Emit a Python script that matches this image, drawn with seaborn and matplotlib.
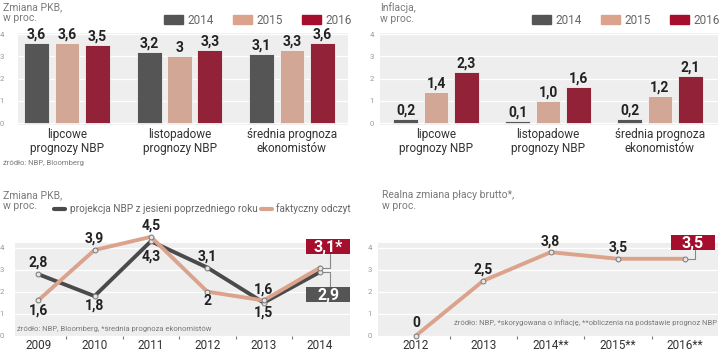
import matplotlib
matplotlib.use("Agg")
import matplotlib.pyplot as plt
import matplotlib.transforms as mtransforms
import pandas as pd
import seaborn as sns
from matplotlib.lines import Line2D
from matplotlib.patches import Patch, Rectangle

sns.set_theme(style="white")
plt.rcParams["font.family"] = ["Liberation Sans Narrow", "Roboto", "DejaVu Sans"]

# --- data -------------------------------------------------------------
GROUPS = ["lipcowe\nprognozy NBP", "listopadowe\nprognozy NBP", "średnia prognoza\nekonomistów"]
YEARS = ["2014", "2015", "2016"]

gdp_2014 = [3.6, 3.2, 3.1]
gdp_2015 = [3.6, 3.0, 3.3]
gdp_2016 = [3.5, 3.3, 3.6]

infl_2014 = [0.2, 0.1, 0.2]
infl_2015 = [1.4, 1.0, 1.2]
infl_2016 = [2.3, 1.6, 2.1]

gdp_years = [2009, 2010, 2011, 2012, 2013, 2014]
gdp_projection = [2.8, 1.8, 4.3, 3.1, 1.5, 2.9]
gdp_actual = [1.6, 3.9, 4.5, 2.0, 1.6, 3.1]

wage_years = ["2012", "2013", "2014**", "2015**", "2016**"]
wage_change = [0.0, 2.5, 3.8, 3.5, 3.5]

# --- style ------------------------------------------------------------
DARK = "#555555"
SALMON = "#dca38c"
RED = "#a50f2d"
BG = "#eeeeee"
GREY_TEXT = "#7a7a7a"
SANS = ["Roboto", "DejaVu Sans"]
YEAR_COLORS = {"2014": DARK, "2015": SALMON, "2016": RED}
PROJ_LABEL = "projekcja NBP z jesieni poprzedniego roku"
ACT_LABEL = "faktyczny odczyt"
W, H = 720, 352
VAL_FONT = dict(fontsize=10, fontweight="bold", color="#222222")

fig = plt.figure(figsize=(W / 100, H / 100), dpi=100)


def px_axes(x0, y0, x1, y1):
    return fig.add_axes([x0 / W, 1 - y1 / H, (x1 - x0) / W, (y1 - y0) / H])


def fmt_comma(v):
    return f"{v:g}".replace(".", ",")


def style_axes(ax, ylim, ypad):
    ax.set_facecolor(BG)
    for s in ax.spines.values():
        s.set_visible(False)
    ax.set_ylim(ylim)
    ax.set_yticks([0, 1, 2, 3, 4])
    ax.grid(axis="y", color="white", linewidth=0.9)
    ax.grid(axis="x", visible=False)
    ax.set_axisbelow(True)
    ax.tick_params(axis="y", length=0, labelsize=5.5, labelcolor="#999999", pad=ypad)
    ax.set_xlabel("")
    ax.set_ylabel("")


def fig_text(x, y, s, **kw):
    fig.text(x / W, 1 - y / H, s, **kw)


def value_box(ax, x, y, text, color, dx, dy, bw=44, bh=15, lx=10):
    # box anchored to a data point, offsets in pixels; elbow connector to the point
    trans = fig.dpi_scale_trans + mtransforms.ScaledTranslation(x, y, ax.transData)
    ax.add_patch(Rectangle(((dx - bw / 2) / 100, (dy - bh / 2) / 100), bw / 100, bh / 100,
                           transform=trans, fc=color, ec="none", clip_on=False, zorder=5))
    edge = dy - bh / 2 if dy > 0 else dy + bh / 2
    ax.add_line(Line2D([0, lx / 100, lx / 100], [0, 0, edge / 100], transform=trans,
                       color="#888888", linewidth=0.8, clip_on=False, zorder=1.5))
    ax.text(dx / 100, dy / 100 - 0.005, text, transform=trans, ha="center", va="center",
            fontsize=11.5, fontweight="bold", color="white", family=SANS, zorder=6)


def bar_panel(ax, v14, v15, v16, fmt, xlim, ypad):
    df = pd.DataFrame({
        "group": GROUPS * 3,
        "year": [y for y in YEARS for _ in GROUPS],
        "value": v14 + v15 + v16,
    })
    sns.barplot(data=df, x="group", y="value", hue="year", order=GROUPS, hue_order=YEARS,
                palette=YEAR_COLORS, width=0.81, gap=0.18, errorbar=None, legend=False,
                edgecolor="#f4f4f4", linewidth=0.6, ax=ax)
    for cont in ax.containers:
        ax.bar_label(cont, labels=[fmt(v) for v in cont.datavalues], padding=1, **VAL_FONT)
    style_axes(ax, (-0.09, 4.05), ypad)
    ax.set_xlim(xlim)
    ax.tick_params(axis="x", length=0, labelsize=8.5, labelcolor="#333333", pad=2)
    for t in ax.get_xticklabels():
        t.set_linespacing(1.1)
        t.set_fontfamily(SANS)
    return [Patch(color=YEAR_COLORS[y], label=y) for y in YEARS]


def year_legend(handles, x, y):
    fig.legend(handles=handles, loc="center left", bbox_to_anchor=(x / W, 1 - y / H), ncol=3,
               frameon=False, handlelength=1.6, handleheight=0.75,
               handletextpad=0.4, columnspacing=1.6, borderpad=0, borderaxespad=0,
               prop={"family": SANS, "size": 8.5}, labelcolor="#666666")


def x_years(ax, labels_pos, labels=None):
    ax.set_xticks(labels_pos)
    if labels is not None:
        ax.set_xticklabels(labels)
    ax.set_xticks([p + 0.5 for p in labels_pos[:-1]], minor=True)
    ax.tick_params(axis="x", which="major", length=0, labelsize=8.5, labelcolor="#333333", pad=2.5)
    ax.tick_params(axis="x", which="minor", length=2.5, width=0.8, color="#777777",
                   direction="out", bottom=True)
    for t in ax.get_xticklabels():
        t.set_fontfamily(SANS)


# --- panel 1: GDP forecasts ------------------------------------------
ax1 = px_axes(18, 33, 348, 125)
h = bar_panel(ax1, gdp_2014, gdp_2015, gdp_2016, fmt_comma, (-0.436, 2.498), 10)
year_legend(h, 164, 20)
fig_text(3, 2, "Zmiana PKB,\nw proc.", fontsize=7.5, color=GREY_TEXT, va="top", linespacing=1.15,
         family=SANS)
fig_text(3, 163, "źródło: NBP, Bloomberg", fontsize=5.5, color=GREY_TEXT, va="center", family=SANS)

# --- panel 2: inflation forecasts ------------------------------------
ax2 = px_axes(380, 33, 718, 125)
h = bar_panel(ax2, infl_2014, infl_2015, infl_2016,
              lambda v: f"{v:.1f}".replace(".", ","), (-0.5, 2.518), 4.5)
year_legend(h, 532, 20)
fig_text(380, 2, "Inflacja,\nw proc.", fontsize=7.5, color=GREY_TEXT, va="top", linespacing=1.15,
         family=SANS)

# --- panel 3: GDP projection vs actual --------------------------------
ax3 = px_axes(15, 243, 350, 336)
df3 = pd.DataFrame({
    "year": gdp_years * 2,
    "value": gdp_projection + gdp_actual,
    "series": [PROJ_LABEL] * len(gdp_years) + [ACT_LABEL] * len(gdp_years),
})
sns.lineplot(data=df3, x="year", y="value", hue="series", hue_order=[PROJ_LABEL, ACT_LABEL],
             palette={PROJ_LABEL: "#4a4a4a", ACT_LABEL: SALMON}, linewidth=2.8, marker="o",
             markersize=3.5, markerfacecolor="#e6e6e6", markeredgecolor="#777777",
             markeredgewidth=0.7, legend=False, ax=ax3)
for ln in ax3.lines:
    ln.set_clip_on(False)
style_axes(ax3, (-0.02, 4.22), 8)
ax3.set_xlim(2008.59, 2014.53)
x_years(ax3, gdp_years)

for series, other in ((gdp_projection, gdp_actual), (gdp_actual, gdp_projection)):
    for i in range(len(series) - 1):
        v = series[i]
        if v > other[i] or (v == other[i] and series is gdp_actual):
            off = 8
        else:
            peak = 0 < i and series[i - 1] < v > series[i + 1]
            off = -11 if peak else -7
        ax3.annotate(fmt_comma(v), (gdp_years[i], v), xytext=(0, off), textcoords="offset points",
                     ha="center", va="center", annotation_clip=False, **VAL_FONT)

value_box(ax3, gdp_years[-1], gdp_actual[-1], fmt_comma(gdp_actual[-1]) + "*", RED, 8, 21)
value_box(ax3, gdp_years[-1], gdp_projection[-1], fmt_comma(gdp_projection[-1]), DARK, 8, -23)
ax3.text(0.006, 0.08, "źródło: NBP, Bloomberg, *średnia prognoza ekonomistów",
         transform=ax3.transAxes, fontsize=5.5, color=GREY_TEXT, va="center", family=SANS)
line_handles = [Line2D([0], [0], color="#4a4a4a", lw=3, label=PROJ_LABEL),
                Line2D([0], [0], color=SALMON, lw=3, label=ACT_LABEL)]
fig.legend(handles=line_handles, loc="center left", bbox_to_anchor=(54 / W, 1 - 209 / H), ncol=2,
           frameon=False, handlelength=1.1, handletextpad=0.45, columnspacing=0.35, borderpad=0,
           borderaxespad=0, prop={"family": SANS, "size": 7.2}, labelcolor="#666666")
fig_text(3, 190, "Zmiana PKB,\nw proc.", fontsize=7.5, color=GREY_TEXT, va="top", linespacing=1.15,
         family=SANS)

# --- panel 4: real wage change ----------------------------------------
ax4 = px_axes(378, 243, 718, 336)
df4 = pd.DataFrame({"pos": range(len(wage_years)), "value": wage_change})
sns.lineplot(data=df4, x="pos", y="value", color=SALMON, linewidth=2.8, marker="o", markersize=3.5,
             markerfacecolor="#e6e6e6", markeredgecolor="#777777", markeredgewidth=0.7, ax=ax4)
for ln in ax4.lines:
    ln.set_clip_on(False)
style_axes(ax4, (-0.02, 4.22), 4.5)
ax4.set_xlim(-0.565, 4.487)
x_years(ax4, list(range(len(wage_years))), wage_years)
for i, v in enumerate(wage_change[:-1]):
    ax4.annotate(fmt_comma(v), (i, v), xytext=(0, 9 if v == 0 else 8), textcoords="offset points",
                 ha="center", va="center", annotation_clip=False, **VAL_FONT)
value_box(ax4, len(wage_change) - 1, wage_change[-1], fmt_comma(wage_change[-1]), RED, 7.5, 16)
fig_text(717, 323, "źródło: NBP, *skorygowana o inflację, **obliczenia na podstawie prognoz NBP",
         fontsize=5.5, color=GREY_TEXT, va="center", ha="right", family=SANS)
fig_text(382, 190, "Realna zmiana płacy brutto*,\nw proc.", fontsize=7.5, color=GREY_TEXT, va="top",
         linespacing=1.15, family=SANS)

fig.savefig("out.png", dpi=100)
